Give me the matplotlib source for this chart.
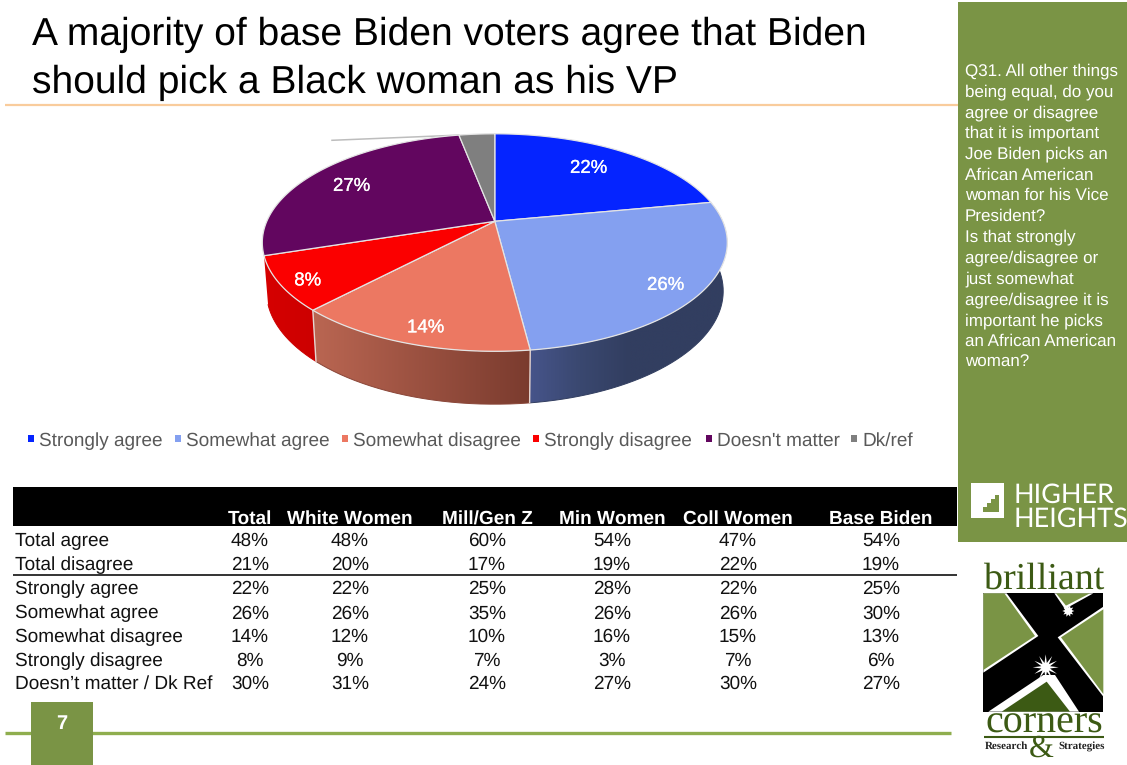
import numpy as np
import matplotlib
matplotlib.use("Agg")
import matplotlib.pyplot as plt
from matplotlib.patches import Polygon, Rectangle
from matplotlib.colors import to_rgb
import matplotlib.patheffects as pe

plt.rcParams["text.hinting"] = "none"
plt.rcParams["text.hinting_factor"] = 1

# ---------- data ----------
pie_labels = ["Strongly agree", "Somewhat agree", "Somewhat disagree",
              "Strongly disagree", "Doesn't matter", "Dk/ref"]
pie_values = [22, 26, 14, 8, 27, 3]
pie_colors = ["#0524FF", "#84A0F0", "#EC7862", "#FB0000", "#62065F", "#7F7F7F"]
shown_labels = [True, True, True, True, True, False]

table_columns = ["Total", "White Women", "Mill/Gen Z", "Min Women", "Coll Women", "Base Biden"]
table_rows = ["Total agree", "Total disagree", "Strongly agree", "Somewhat agree",
              "Somewhat disagree", "Strongly disagree", "Doesn\u2019t matter / Dk Ref"]
col_total = [48, 21, 22, 26, 14, 8, 30]
col_white_women = [48, 20, 22, 26, 12, 9, 31]
col_mill_genz = [60, 17, 25, 35, 10, 7, 24]
col_min_women = [54, 19, 28, 26, 16, 3, 27]
col_coll_women = [47, 22, 22, 26, 15, 7, 30]
col_base_biden = [54, 19, 25, 30, 13, 6, 27]

title_lines = ["A majority of base Biden voters agree that Biden",
               "should pick a Black woman as his VP"]
question_lines = ["Q31. All other things", "being equal, do you", "agree or disagree",
                  "that it is important", "Joe Biden picks an", "African American",
                  "woman for his Vice", "President?", "Is that strongly",
                  "agree/disagree or", "just somewhat", "agree/disagree it is",
                  "important he picks", "an African American", "woman?"]

# ---------- layout ----------
W, H = 1127, 765
GREEN = "#7A9445"
DARK = "#3C5A14"
SANS = "Liberation Sans"
SERIF = "Liberation Serif"

fig = plt.figure(figsize=(W / 100, H / 100), dpi=100, facecolor="white")
ax = fig.add_axes([0, 0, 1, 1])
ax.axis("off")

# ---------- title ----------
for line, y in zip(title_lines, [44.5, 92.5]):
    ax.text(32, y, line, fontsize=28.4, family=SANS, color="black", va="baseline")
ax.plot([5, 958], [104.5, 104.5], color="#F9CC9C", lw=1.6, solid_capstyle="butt")


# ---------- perspective pie ----------
def project(frac, cx, cy, ax_, by, k=0.1954):
    t = 2 * np.pi * np.asarray(frac)
    x, y = np.sin(t), np.cos(t)
    d = 1 + k * y
    return cx + ax_ * x / d, cy - by * y / d


PIE_X, PIE_Y = 494.8, 221.3


def top(frac):
    return project(frac, PIE_X, PIE_Y, 228, 104.6)


def bottom(frac):
    return project(frac, PIE_X, 269, 224, 108.8)


edges = np.cumsum([0] + pie_values) / sum(pie_values)

# side wall gradients: colour stops along the wall, left to right in x
side_stops = {1: [(0.0, "#46548A"), (0.25, "#3A4870"), (0.5, "#323E60"), (1.0, "#323E60")],
              2: [(0.0, "#BA6652"), (1.0, "#7A3B2E")],
              3: [(0.0, "#D60000"), (1.0, "#CC0000")]}
for i, stops in side_stops.items():
    f = np.linspace(edges[i], edges[i + 1], 200)
    xt, yt = top(f)
    xb, yb = bottom(f)
    pts = np.r_[np.c_[xt, yt], np.c_[xb, yb][::-1]]
    x0, x1 = pts[:, 0].min(), pts[:, 0].max()
    y0, y1 = pts[:, 1].min(), pts[:, 1].max()
    pos = np.linspace(0, 1, 256)
    rgb = np.stack([np.interp(pos, [s[0] for s in stops], [to_rgb(s[1])[c] for s in stops])
                    for c in range(3)], axis=-1)[None, :, :]
    im = ax.imshow(rgb, extent=(x0, x1, y1, y0), aspect="auto", zorder=2, interpolation="bilinear")
    im.set_clip_path(Polygon(pts, closed=True, transform=ax.transData))
    ax.plot(xb, yb, color=to_rgb(stops[-1][1]) if i == 1 else "#8A4638" if i == 2 else "#CC0000",
            lw=0.7, zorder=2)
for e in [edges[2], edges[3]]:
    xa, ya = top(e)
    xb, yb = bottom(e)
    ax.plot([xa, xb], [ya, yb], color="#E6D5D0", lw=1.0, zorder=3)

# top surface
for i, col in enumerate(pie_colors):
    f = np.linspace(edges[i], edges[i + 1], 120)
    xs, ys = top(f)
    ax.add_patch(Polygon(np.r_[[[PIE_X, PIE_Y]], np.c_[xs, ys]], closed=True, fc=col,
                         ec="#E4E4E4", lw=0.9, zorder=4))

# leader line of the small slice
xg, yg = top(edges[5])
ax.plot([332, xg], [140.3, yg], color="#BDBDBD", lw=1.1, zorder=3)

label_pos = [(589, 166), (666, 283), (426, 325.5), (308, 278.5), (352, 184)]
for v, (lx, ly), show in zip(pie_values, label_pos, shown_labels):
    if show:
        ax.text(lx, ly, f"{v}%", color="white", fontsize=13.4, family=SANS,
                ha="center", va="center_baseline", zorder=6,
                path_effects=[pe.withStroke(linewidth=0.2, foreground="white")])

# ---------- legend ----------
leg_x = [30.5, 177.5, 344.5, 535.5, 708.5, 853.5]
for name, col, x in zip(pie_labels, pie_colors, leg_x):
    ax.add_patch(Rectangle((x - 3, 435), 6.5, 6.5, fc=col, ec="none"))
    ax.text(x + 8.5, 446, name, fontsize=13.7, family=SANS, color="#595959",
            va="baseline")

# ---------- table ----------
ax.add_patch(Rectangle((13, 487), 944, 38.5, fc="black", ec="none"))
col_x = [250, 350, 487, 612, 738, 881]
row_y = [546, 570, 594, 618.5, 642, 666, 689]
columns = [col_total, col_white_women, col_mill_genz, col_min_women, col_coll_women, col_base_biden]
for name, x in zip(table_columns, col_x):
    ax.text(x, 524.2, name, color="white", fontsize=13.7, family=SANS, weight="bold",
            ha="center", va="baseline")
for name, y in zip(table_rows, row_y):
    ax.text(15, y, name, color="#111111", fontsize=13.7, family=SANS, va="baseline")
for vals, x in zip(columns, col_x):
    for v, y in zip(vals, row_y):
        ax.text(x, y, f"{v}%", color="#111111", fontsize=13.7, family=SANS,
                ha="center", va="baseline")
ax.plot([13, 957], [575, 575], color="#333333", lw=1.4, solid_capstyle="butt")

# ---------- footer ----------
ax.plot([5, 951], [733, 733], color="#8FAE4E", lw=2.4, solid_capstyle="butt", zorder=1)
ax.add_patch(Rectangle((31, 702), 62, 63, fc=GREEN, ec="none", zorder=2))
ax.text(62, 722, "7", color="white", fontsize=14.5, weight="bold", family=SANS,
        ha="center", va="center_baseline", zorder=3)

# ---------- side panel ----------
ax.add_patch(Rectangle((958, 2), 169, 540, fc=GREEN, ec="none"))
for i, line in enumerate(question_lines):
    ax.text(965, 75.5 + i * 20.8, line, color="white", fontsize=12.55, family=SANS, va="baseline")


# Higher Heights mark
def zhh(pts):
    return [(958 + a / 3, 470 + b / 3) for a, b in pts]


ax.add_patch(Polygon(zhh([(38, 38), (137, 38), (137, 145), (38, 145)]), fc="white", ec="none"))
ax.add_patch(Polygon(zhh([(75, 125), (75, 112), (87, 112), (87, 100), (98, 100), (98, 88),
                          (110, 88), (110, 76), (122, 76), (122, 125)]), fc=GREEN, ec="none"))
ax.text(1014, 503, "HIGHER", color="white", fontsize=19.6, family="Lato", va="baseline")
ax.text(1014, 527, "HEIGHTS", color="white", fontsize=19.6, family="Lato", va="baseline")


# Brilliant Corners mark
def zbc(pts):
    return [(975 + a / 3, 560 + b / 3) for a, b in pts]


def star(cx, cy, r1, r2, n):
    a = np.linspace(0, 2 * np.pi, 2 * n, endpoint=False)
    r = np.where(np.arange(2 * n) % 2 == 0, r1, r2)
    return list(zip(cx + r * np.cos(a), cy + r * np.sin(a)))


ax.add_patch(Polygon(zbc([(25, 100), (385, 100), (385, 455), (25, 455)]), fc="black", ec="none"))
olive = [[(25, 100), (95, 100), (190, 228), (25, 338)],
         [(238, 100), (355, 100), (270, 147)],
         [(385, 140), (248, 232), (385, 410)]]
for p in olive:
    ax.add_patch(Polygon(zbc(p), fc="white", ec="white", lw=0))
olive_in = [[(25, 100), (88, 100), (180, 228), (25, 330)],
            [(243, 100), (345, 100), (273, 137)],
            [(385, 148), (258, 232), (385, 402)]]
for p in olive_in:
    ax.add_patch(Polygon(zbc(p), fc=GREEN, ec="none"))
ax.add_patch(Polygon(zbc([(40, 455), (205, 345), (240, 345), (312, 455)]), fc="white", ec="none"))
ax.add_patch(Polygon(zbc([(80, 455), (215, 365), (285, 455)]), fc=DARK, ec="none"))
ax.add_patch(Polygon(star(975 + 212 / 3, 560 + 322 / 3, 13, 4.5, 12), fc="white", ec="none"))
ax.add_patch(Polygon(star(975 + 280 / 3, 560 + 153 / 3, 6, 3.5, 10), fc="white", ec="none"))
ax.text(1044, 588.5, "brilliant", color=DARK, fontsize=27, family=SERIF, ha="center", va="baseline")
ax.text(1044, 733, "corners", color=DARK, fontsize=29, family=SERIF, ha="center", va="baseline")
ax.plot([984, 1104], [737, 737], color=DARK, lw=1.5, solid_capstyle="butt")
ax.text(1041, 757, "&", color=DARK, fontsize=23, family=SERIF, ha="center", va="baseline")
ax.text(1006, 746.5, "Research", color="#222222", fontsize=7.8, family=SERIF, weight="bold",
        ha="center", va="center")
ax.text(1082, 746.5, "Strategies", color="#222222", fontsize=7.8, family=SERIF, weight="bold",
        ha="center", va="center")

ax.set_xlim(0, W)
ax.set_ylim(H, 0)
fig.savefig("out.png", dpi=100, facecolor="white")
